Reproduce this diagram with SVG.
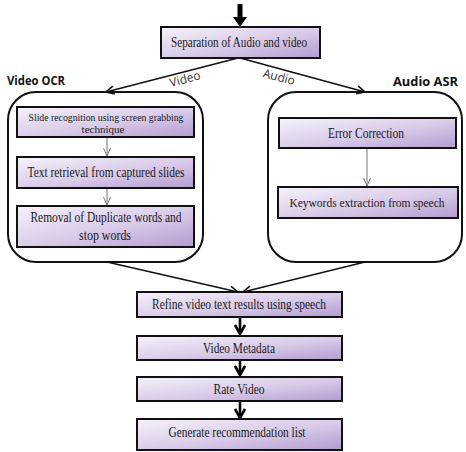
<svg xmlns="http://www.w3.org/2000/svg" width="466" height="452" viewBox="0 0 466 452">
<defs>
<linearGradient id="g" x1="0" y1="0" x2="1" y2="1">
<stop offset="0" stop-color="#f6f2fa"/>
<stop offset="0.55" stop-color="#d8cae8"/>
<stop offset="1" stop-color="#b39bd0"/>
</linearGradient>
<marker id="open" markerWidth="10" markerHeight="10" refX="9" refY="5" orient="auto" markerUnits="userSpaceOnUse">
<path d="M1,1 L9,5 L1,9" fill="none" stroke="#111" stroke-width="1.6"/>
</marker>
<marker id="thin" markerWidth="10" markerHeight="10" refX="9" refY="5" orient="auto" markerUnits="userSpaceOnUse">
<path d="M1,1.5 L9,5 L1,8.5" fill="none" stroke="#777" stroke-width="1"/>
</marker>
<marker id="thick" markerWidth="12" markerHeight="12" refX="10" refY="6" orient="auto" markerUnits="userSpaceOnUse">
<path d="M1,1 L10,6 L1,11" fill="none" stroke="#000" stroke-width="2.6"/>
</marker>
</defs>
<style>
.box{fill:url(#g);stroke:#111;stroke-width:2}
.grp{fill:#fff;stroke:#111;stroke-width:2}
.t{font-family:"Liberation Serif","Times New Roman",serif;fill:#1a1a1a;text-anchor:middle;font-size:14px}
.s{font-size:11px}
.m{font-size:13px}
.h{font-family:"Open Sans","Liberation Sans",sans-serif;font-weight:bold;fill:#111;font-size:13px}
.lbl{font-family:"Open Sans","Liberation Sans",sans-serif;fill:#333;font-size:12px}
.c{fill:none;stroke:#111;stroke-width:1.5}
.ci{fill:none;stroke:#777;stroke-width:1}
.cb{fill:none;stroke:#000;stroke-width:2.6}
</style>
<rect width="466" height="452" fill="#fff"/>

<g id="groups">
<rect id="video-ocr-group" class="grp" x="8" y="92" width="195" height="170" rx="28" ry="28"/>
<rect id="audio-asr-group" class="grp" x="268" y="92" width="194" height="170" rx="28" ry="28"/>
</g>

<g id="connectors">
<path d="M240,4 V18" stroke="#000" stroke-width="5" fill="none"/>
<path d="M233,17 L247,17 L240,27 Z" fill="#000"/>
<path class="c" d="M238,58 L106,92" marker-end="url(#open)"/>
<path class="c" d="M240,58 L365,92" marker-end="url(#open)"/>
<path class="ci" d="M107,137 V156" marker-end="url(#thin)"/>
<path class="ci" d="M107,188 V205" marker-end="url(#thin)"/>
<path class="ci" d="M367,148 V186" marker-end="url(#thin)"/>
<path class="c" d="M107,262 L238,292" marker-end="url(#open)"/>
<path class="c" d="M365,262 L243,292" marker-end="url(#open)"/>
<path class="cb" d="M240,317 V334" marker-end="url(#thick)"/>
<path class="cb" d="M240,360 V375" marker-end="url(#thick)"/>
<path class="cb" d="M240,401 V418" marker-end="url(#thick)"/>
</g>

<g id="labels">
<text class="h" x="7" y="85" textLength="58" lengthAdjust="spacingAndGlyphs">Video OCR</text>
<text class="h" x="393" y="86" textLength="65" lengthAdjust="spacingAndGlyphs">Audio ASR</text>
<text class="lbl" transform="translate(186,83) rotate(-14.5)" text-anchor="middle">Video</text>
<text class="lbl" transform="translate(278,81) rotate(14.5)" text-anchor="middle">Audio</text>
</g>

<g id="separation">
<rect class="box" x="161" y="27" width="159" height="31"/>
<text class="t" x="239" y="47" textLength="136" lengthAdjust="spacingAndGlyphs">Separation of Audio and video</text>
</g>

<g id="slide-recognition">
<rect class="box" x="17" y="107" width="177" height="30"/>
<text class="t s" x="106" y="121" textLength="155" lengthAdjust="spacingAndGlyphs">Slide recognition using screen grabbing</text>
<text class="t s" x="103" y="133">technique</text>
</g>

<g id="text-retrieval">
<rect class="box" x="17" y="157" width="177" height="31"/>
<text class="t" x="106" y="177" textLength="157" lengthAdjust="spacingAndGlyphs">Text retrieval  from captured slides</text>
</g>

<g id="removal">
<rect class="box" x="17" y="206" width="177" height="41"/>
<text class="t" x="106" y="222" textLength="151" lengthAdjust="spacingAndGlyphs">Removal of Duplicate  words and</text>
<text class="t" x="105" y="240" textLength="52" lengthAdjust="spacingAndGlyphs">stop words</text>
</g>

<g id="error-correction">
<rect class="box" x="279" y="118" width="177" height="30"/>
<text class="t" x="366" y="138" textLength="76" lengthAdjust="spacingAndGlyphs">Error Correction</text>
</g>

<g id="keywords">
<rect class="box" x="278" y="187" width="180" height="31"/>
<text class="t m" x="367" y="207" textLength="155" lengthAdjust="spacingAndGlyphs">Keywords extraction  from speech</text>
</g>

<g id="refine">
<rect class="box" x="137" y="292" width="205" height="25"/>
<text class="t" x="239" y="309" textLength="174" lengthAdjust="spacingAndGlyphs">Refine video text results using speech</text>
</g>

<g id="metadata">
<rect class="box" x="137" y="336" width="205" height="24"/>
<text class="t" x="239" y="353" textLength="72" lengthAdjust="spacingAndGlyphs">Video Metadata</text>
</g>

<g id="rate">
<rect class="box" x="137" y="377" width="205" height="24"/>
<text class="t" x="239" y="394" textLength="51" lengthAdjust="spacingAndGlyphs">Rate Video</text>
</g>

<g id="generate">
<rect class="box" x="137" y="419" width="205" height="31"/>
<text class="t" x="237" y="437" textLength="137" lengthAdjust="spacingAndGlyphs">Generate recommendation list</text>
</g>
</svg>
